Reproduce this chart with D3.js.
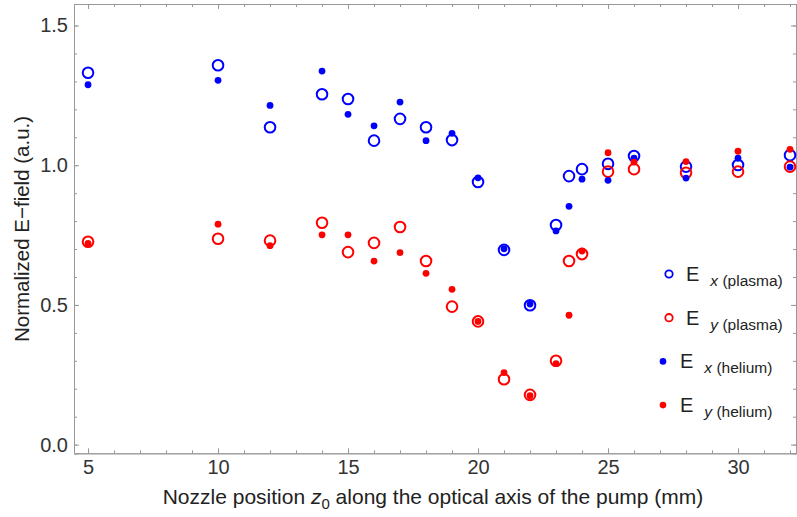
<!DOCTYPE html>
<html><head><meta charset="utf-8">
<script src="https://cdn.jsdelivr.net/npm/d3@7"></script>
<style>
body{margin:0;background:#fff;}
svg{display:block;font-family:"Liberation Sans",Arial,sans-serif;}
</style></head>
<body><svg id="c" width="797" height="517"></svg>
<script>
const zPos = [5,10,12,14,15,16,17,18,19,20,21,22,23,23.5,24,25,26,28,30,32];
const exPlasma = [1.331,1.358,1.136,1.254,1.237,1.088,1.166,1.136,1.090,0.940,0.697,0.499,0.786,0.961,0.986,1.005,1.033,0.995,1.001,1.036];
const eyPlasma = [0.726,0.737,0.730,0.794,0.689,0.722,0.779,0.657,0.494,0.441,0.234,0.178,0.300,0.657,0.682,0.977,0.986,0.973,0.977,0.995];
const exHelium = [1.288,1.304,1.214,1.337,1.182,1.141,1.226,1.088,1.114,0.955,0.701,0.503,0.765,0.853,0.950,0.946,1.025,0.954,1.025,0.993];
const eyHelium = [0.720,0.789,0.712,0.751,0.751,0.657,0.687,0.613,0.556,0.441,0.258,0.175,0.290,0.463,0.693,1.045,1.011,1.013,1.050,1.057];
const xMajor = [5,10,15,20,25,30];
const xMinor = d3.range(5,33,1);
const yMajor = [0,0.5,1.0,1.5];
const yMinor = d3.range(0,1.55,0.1);
const legendItems = [
  {sub:"x", txt:" (plasma)", color:"#0000ff", open:true},
  {sub:"y", txt:" (plasma)", color:"#ff0000", open:true},
  {sub:"x", txt:" (helium)", color:"#0000ff", open:false},
  {sub:"y", txt:" (helium)", color:"#ff0000", open:false}
];

const svg = d3.select("#c");
const L=74, R=796, T=4, B=453.3;
const x = d3.scaleLinear().domain([4.46, 32.23]).range([L, R]);
const y = d3.scaleLinear().domain([-0.031, 1.577]).range([B, T]);
const frameColor = "#999";
const labColor = "#333";

function styleAxis(g){
  g.select(".domain").attr("stroke", frameColor).attr("stroke-width",1);
  g.selectAll(".tick line").attr("stroke", frameColor);
  g.selectAll(".tick text").attr("fill", labColor).style("font-size","20px").style("font-family",'"Liberation Sans",Arial,sans-serif');
}
// minor ticks
svg.append("g").attr("transform",`translate(0,${B})`)
  .call(d3.axisBottom(x).tickValues(xMinor).tickSize(-3).tickFormat(""))
  .call(styleAxis);
svg.append("g").attr("transform",`translate(0,${T})`)
  .call(d3.axisTop(x).tickValues(xMinor).tickSize(-3).tickFormat(""))
  .call(styleAxis);
svg.append("g").attr("transform",`translate(${L},0)`)
  .call(d3.axisLeft(y).tickValues(yMinor).tickSize(-3).tickFormat(""))
  .call(styleAxis);
svg.append("g").attr("transform",`translate(${R},0)`)
  .call(d3.axisRight(y).tickValues(yMinor).tickSize(-3).tickFormat(""))
  .call(styleAxis);
// major
svg.append("g").attr("transform",`translate(0,${B})`)
  .call(d3.axisBottom(x).tickValues(xMajor).tickSize(-5).tickPadding(7).tickFormat(d3.format("d")))
  .call(styleAxis);
svg.append("g").attr("transform",`translate(0,${T})`)
  .call(d3.axisTop(x).tickValues(xMajor).tickSize(-5).tickFormat(""))
  .call(styleAxis);
svg.append("g").attr("transform",`translate(${L},0)`)
  .call(d3.axisLeft(y).tickValues(yMajor).tickSize(-5).tickPadding(6).tickFormat(d3.format(".1f")))
  .call(styleAxis);
svg.append("g").attr("transform",`translate(${R},0)`)
  .call(d3.axisRight(y).tickValues(yMajor).tickSize(-5).tickFormat(""))
  .call(styleAxis);

// data
const plot = svg.append("g");
function openPts(vals, color){
  plot.append("g").selectAll("circle").data(zPos.map((z,i)=>[z,vals[i]])).join("circle")
    .attr("cx",d=>x(d[0])).attr("cy",d=>y(d[1])).attr("r",5.3)
    .attr("fill","none").attr("stroke",color).attr("stroke-width",2);
}
function filledPts(vals, color){
  plot.append("g").selectAll("circle").data(zPos.map((z,i)=>[z,vals[i]])).join("circle")
    .attr("cx",d=>x(d[0])).attr("cy",d=>y(d[1])).attr("r",3.4)
    .attr("fill",color);
}
openPts(exPlasma,"#0000ff");
openPts(eyPlasma,"#ff0000");
filledPts(exHelium,"#0000ff");
filledPts(eyHelium,"#ff0000");

// axis titles
svg.append("text").attr("transform","translate(29,229) rotate(-90)")
  .attr("text-anchor","middle").attr("fill","#222").style("font-size","20.5px")
  .text("Normalized E\u2212field (a.u.)");
const xt = svg.append("text").attr("x",433).attr("y",504).attr("text-anchor","middle")
  .attr("fill","#222").style("font-size","21px");
xt.append("tspan").text("Nozzle position ");
xt.append("tspan").attr("font-style","italic").text("z");
xt.append("tspan").attr("dy",5).style("font-size","15px").text("0");
xt.append("tspan").attr("dy",-5).text(" along the optical axis of the pump (mm)");

// legend
const lg = svg.append("g");
legendItems.forEach((it,i)=>{
  const cy = 274 + i*43.7;
  const g = lg.append("g");
  if(it.open){
    g.append("circle").attr("cx",669).attr("cy",cy).attr("r",3.7).attr("fill","none").attr("stroke",it.color).attr("stroke-width",1.8);
  } else {
    g.append("circle").attr("cx",663).attr("cy",cy).attr("r",3.3).attr("fill",it.color);
  }
  const tx = it.open ? 686 : 680;
  const t = g.append("text").attr("x",tx).attr("y",cy+7).attr("fill","#222").style("font-size","20px");
  t.append("tspan").text("E");
  t.append("tspan").attr("dx",11).attr("dy",5).style("font-size","15.5px").attr("font-style","italic").text(it.sub);
  t.append("tspan").style("font-size","15.5px").text(it.txt);
});
</script></body></html>
